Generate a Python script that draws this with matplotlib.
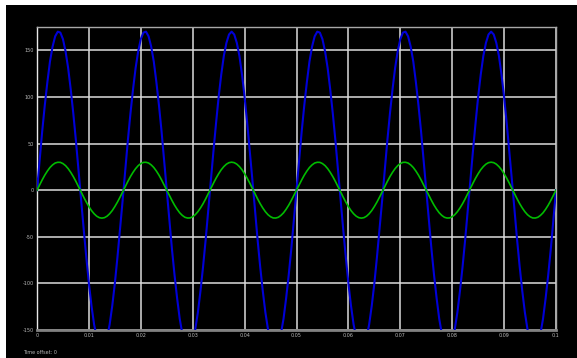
import matplotlib
matplotlib.use("Agg")
import matplotlib.pyplot as plt
from matplotlib.patches import Rectangle
import numpy as np

# samples every 0.5 ms over 0 .. 0.1 s
t = np.linspace(0, 0.1, 201)

voltage = [0, 32, 63, 91, 116, 138, 154, 165, 170, 169, 162, 149, 131, 108, 82, 53, 21, -11, -42, -72,
           -100, -124, -144, -158, -167, -170, -167, -158, -144, -124, -100, -72, -42, -11, 21, 53, 82, 108, 131, 149,
           162, 169, 170, 165, 154, 138, 116, 91, 63, 32,
           0, -32, -63, -91, -116, -138, -154, -165, -170, -169, -162, -149, -131, -108, -82, -53, -21, 11, 42, 72,
           100, 124, 144, 158, 167, 170, 167, 158, 144, 124, 100, 72, 42, 11, -21, -53, -82, -108, -131, -149,
           -162, -169, -170, -165, -154, -138, -116, -91, -63, -32,
           0, 32, 63, 91, 116, 138, 154, 165, 170, 169, 162, 149, 131, 108, 82, 53, 21, -11, -42, -72,
           -100, -124, -144, -158, -167, -170, -167, -158, -144, -124, -100, -72, -42, -11, 21, 53, 82, 108, 131, 149,
           162, 169, 170, 165, 154, 138, 116, 91, 63, 32,
           0, -32, -63, -91, -116, -138, -154, -165, -170, -169, -162, -149, -131, -108, -82, -53, -21, 11, 42, 72,
           100, 124, 144, 158, 167, 170, 167, 158, 144, 124, 100, 72, 42, 11, -21, -53, -82, -108, -131, -149,
           -162, -169, -170, -165, -154, -138, -116, -91, -63, -32,
           0]

current = [0, 5.6, 11.0, 16.1, 20.5, 24.3, 27.1, 29.1, 29.9, 29.8, 28.5, 26.3, 23.1, 19.1, 14.5, 9.3, 3.8, -1.9, -7.5, -12.8,
           -17.6, -21.9, -25.3, -27.9, -29.5, -30.0, -29.5, -27.9, -25.3, -21.9, -17.6, -12.8, -7.5, -1.9, 3.8, 9.3, 14.5, 19.1, 23.1, 26.3,
           28.5, 29.8, 29.9, 29.1, 27.1, 24.3, 20.5, 16.1, 11.0, 5.6,
           0, -5.6, -11.0, -16.1, -20.5, -24.3, -27.1, -29.1, -29.9, -29.8, -28.5, -26.3, -23.1, -19.1, -14.5, -9.3, -3.8, 1.9, 7.5, 12.8,
           17.6, 21.9, 25.3, 27.9, 29.5, 30.0, 29.5, 27.9, 25.3, 21.9, 17.6, 12.8, 7.5, 1.9, -3.8, -9.3, -14.5, -19.1, -23.1, -26.3,
           -28.5, -29.8, -29.9, -29.1, -27.1, -24.3, -20.5, -16.1, -11.0, -5.6,
           0, 5.6, 11.0, 16.1, 20.5, 24.3, 27.1, 29.1, 29.9, 29.8, 28.5, 26.3, 23.1, 19.1, 14.5, 9.3, 3.8, -1.9, -7.5, -12.8,
           -17.6, -21.9, -25.3, -27.9, -29.5, -30.0, -29.5, -27.9, -25.3, -21.9, -17.6, -12.8, -7.5, -1.9, 3.8, 9.3, 14.5, 19.1, 23.1, 26.3,
           28.5, 29.8, 29.9, 29.1, 27.1, 24.3, 20.5, 16.1, 11.0, 5.6,
           0, -5.6, -11.0, -16.1, -20.5, -24.3, -27.1, -29.1, -29.9, -29.8, -28.5, -26.3, -23.1, -19.1, -14.5, -9.3, -3.8, 1.9, 7.5, 12.8,
           17.6, 21.9, 25.3, 27.9, 29.5, 30.0, 29.5, 27.9, 25.3, 21.9, 17.6, 12.8, 7.5, 1.9, -3.8, -9.3, -14.5, -19.1, -23.1, -26.3,
           -28.5, -29.8, -29.9, -29.1, -27.1, -24.3, -20.5, -16.1, -11.0, -5.6,
           0]

xticks = [0, 0.01, 0.02, 0.03, 0.04, 0.05, 0.06, 0.07, 0.08, 0.09, 0.1]
xlabels = ["0", "0.01", "0.02", "0.03", "0.04", "0.05", "0.06", "0.07", "0.08", "0.09", "0.1"]
yticks = [-150, -100, -50, 0, 50, 100, 150]
ylabels = ["-150", "-100", "-50", "0", "50", "100", "150"]

W, H = 577, 358
fig = plt.figure(figsize=(W / 100, H / 100), dpi=100, facecolor="white")
fig.add_artist(Rectangle((6 / W, 0), 1 - 6 / W, (H - 5) / H, transform=fig.transFigure,
                         facecolor="black", edgecolor="none", zorder=0))

ax = fig.add_axes([37 / W, (H - 330) / H, (556 - 37) / W, (330 - 27) / H])
ax.set_facecolor("black")
ax.set_xlim(0, 0.1)
ax.set_ylim(-150, 175)

ax.set_xticks(xticks)
ax.set_xticklabels(xlabels)
ax.set_yticks(yticks)
ax.set_yticklabels(ylabels)
ax.tick_params(length=0, labelsize=3.5, labelcolor="#b8b8b8", pad=2)
ax.grid(True, color="#dcdcdc", linewidth=1.1)
ax.set_axisbelow(True)

for side in ["top", "right"]:
    ax.spines[side].set_color("#a8a8a8")
    ax.spines[side].set_linewidth(1.0)
ax.spines["left"].set_color("#e8e8e8")
ax.spines["left"].set_linewidth(1.0)
ax.spines["bottom"].set_color("#808080")
ax.spines["bottom"].set_linewidth(2.0)

ax.plot(t, voltage, color="#0000d8", linewidth=1.5, zorder=3)
ax.plot(t, current, color="#00bc00", linewidth=1.2, zorder=4)

fig.text(23 / W, 1 - 352 / H, "Time offset: 0", fontsize=3.5, color="#b8b8b8",
         ha="left", va="center")

fig.savefig("out.png", dpi=100, facecolor="white")
